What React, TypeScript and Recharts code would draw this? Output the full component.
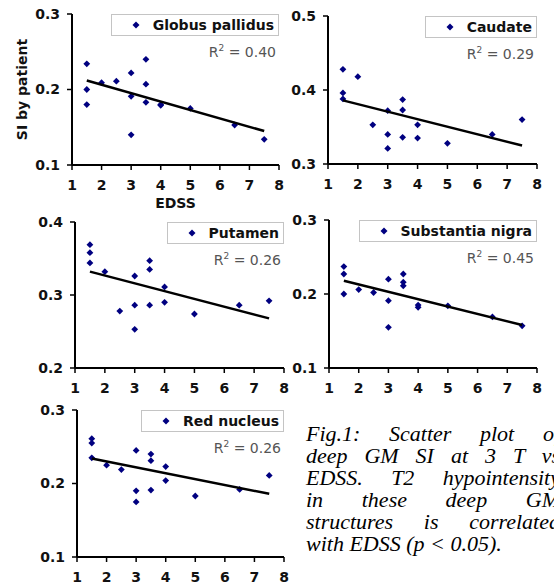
import { ScatterChart, Scatter, XAxis, YAxis, Legend } from 'recharts';

// EDSS score of each patient (shared x values)
const edss = [1.5, 1.5, 1.5, 2, 2.5, 3, 3, 3, 3.5, 3.5, 3.5, 4, 4, 5, 6.5, 7.5];
const xTicks = [1, 2, 3, 4, 5, 6, 7, 8];

// SI by patient, same order as edss
const globusPallidus = [0.234, 0.2, 0.18, 0.209, 0.211, 0.222, 0.191, 0.14, 0.24, 0.207, 0.183, 0.18, 0.179, 0.175, 0.153, 0.134];
const caudate = [0.428, 0.396, 0.388, 0.418, 0.353, 0.372, 0.34, 0.321, 0.387, 0.373, 0.336, 0.353, 0.335, 0.328, 0.34, 0.36];
const putamen = [0.369, 0.358, 0.344, 0.332, 0.278, 0.326, 0.286, 0.253, 0.347, 0.335, 0.286, 0.311, 0.29, 0.274, 0.286, 0.292];
const substantiaNigra = [0.237, 0.227, 0.2, 0.206, 0.202, 0.22, 0.191, 0.155, 0.227, 0.216, 0.211, 0.185, 0.182, 0.184, 0.169, 0.157];
const redNucleus = [0.261, 0.255, 0.235, 0.225, 0.219, 0.245, 0.19, 0.175, 0.24, 0.231, 0.191, 0.223, 0.204, 0.183, 0.192, 0.211];

// linear trendlines, read at EDSS 1.5 and 7.5
const trendX = [1.5, 7.5];
const gpTrend = [0.212, 0.145];
const caudateTrend = [0.386, 0.325];
const putamenTrend = [0.332, 0.268];
const snTrend = [0.218, 0.158];
const rnTrend = [0.234, 0.186];

const r2Values = ['0.40', '0.29', '0.26', '0.45', '0.26'];

const captionLines = [
  'Fig.1: Scatter plot of',
  'deep GM SI at 3 T vs',
  'EDSS. T2 hypointensity',
  'in these deep GM',
  'structures is correlated',
  'with EDSS (p < 0.05).',
];

const FONT = '"DejaVu Sans", Verdana, sans-serif';
const NAVY = '#000080';

const tickFont = { fontFamily: FONT, fontSize: 14, fontWeight: 700, fill: '#111' };

const Diamond = (props: any) => {
  const { cx, cy } = props;
  if (cx == null || cy == null) return <g />;
  const r = 3.4;
  return <path d={`M${cx},${cy - r}L${cx + r},${cy}L${cx},${cy + r}L${cx - r},${cy}Z`} fill={NAVY} />;
};

const NoDot = () => <g />;

const makeLegend = (r2: string) => (props: any) => {
  const items = (props.payload || []).filter((p: any) => p.type !== 'none');
  const item = items[0];
  return (
    <div style={{ display: 'flex', flexDirection: 'column', alignItems: 'flex-end' }}>
      <div
        style={{
          border: '1px solid #c4c4c4',
          background: '#fff',
          height: 20,
          display: 'flex',
          alignItems: 'center',
          paddingLeft: 20,
          paddingRight: 4,
          fontFamily: FONT,
          fontSize: 14,
          fontWeight: 700,
          color: '#111',
          whiteSpace: 'nowrap',
        }}
      >
        <svg width={8} height={8} style={{ marginRight: 13 }}>
          <path d="M4,0.5L7.5,4L4,7.5L0.5,4Z" fill={NAVY} />
        </svg>
        {item ? item.value : ''}
      </div>
      <div style={{ fontFamily: FONT, fontSize: 14, color: '#555', lineHeight: '20px', marginTop: 2, paddingRight: 3, whiteSpace: 'nowrap' }}>
        R<sup style={{ fontSize: 9, verticalAlign: 6 }}>2</sup> = {r2}
      </div>
    </div>
  );
};

type Rect = { left: number; top: number; right: number; bottom: number };

type PanelProps = {
  name: string;
  values: number[];
  trend: number[];
  r2: string;
  yDomain: [number, number];
  yTicks: number[];
  boxLeft: number;
  boxTop: number;
  plot: Rect;
  xHeight: number;
  xTitle?: string;
  yTitle?: string;
};

const Panel = (p: PanelProps) => {
  const rightGap = 10;
  const width = p.plot.right + rightGap - p.boxLeft;
  const height = p.plot.bottom + p.xHeight - p.boxTop;
  const margin = { top: p.plot.top - p.boxTop, right: rightGap, bottom: 0, left: 0 };
  const yWidth = p.plot.left - p.boxLeft;
  const points = edss.map((x, i) => ({ x, y: p.values[i] }));
  const fit = trendX.map((x, i) => ({ x, y: p.trend[i] }));

  return (
    <div style={{ position: 'absolute', left: p.boxLeft, top: p.boxTop }}>
      <ScatterChart width={width} height={height} margin={margin}>
        <XAxis
          dataKey="x"
          type="number"
          domain={[1, 8]}
          ticks={xTicks}
          interval={0}
          height={p.xHeight}
          tick={tickFont}
          tickSize={5}
          tickMargin={10}
          axisLine={{ stroke: '#000', strokeWidth: 2 }}
          tickLine={{ stroke: '#000', strokeWidth: 1.5 }}
          label={
            p.xTitle
              ? { value: p.xTitle, position: 'insideBottom', offset: 5, style: { fontFamily: FONT, fontSize: 14, fontWeight: 700, fill: '#111' } }
              : undefined
          }
        />
        <YAxis
          dataKey="y"
          type="number"
          domain={p.yDomain}
          ticks={p.yTicks}
          interval={0}
          width={yWidth}
          tick={tickFont}
          tickSize={5}
          tickMargin={7}
          axisLine={{ stroke: '#000', strokeWidth: 2 }}
          tickLine={{ stroke: '#000', strokeWidth: 1.5 }}
          label={
            p.yTitle
              ? {
                  content: (lp: any) => {
                    const vb = lp.viewBox || {};
                    const cx = vb.x + 22;
                    const cy = vb.y + vb.height / 2;
                    return (
                      <text
                        x={cx}
                        y={cy}
                        transform={`rotate(-90, ${cx}, ${cy})`}
                        textAnchor="middle"
                        dominantBaseline="central"
                        style={{ fontFamily: FONT, fontSize: 14, fontWeight: 700, fill: '#111' }}
                      >
                        {p.yTitle}
                      </text>
                    );
                  },
                }
              : undefined
          }
        />
        <XAxis xAxisId="frameTop" orientation="top" type="number" domain={[1, 8]} height={0} tick={false} tickLine={false} axisLine={{ stroke: '#a8a8a8' }} />
        <YAxis yAxisId="frameRight" orientation="right" type="number" domain={p.yDomain} width={0} tick={false} tickLine={false} axisLine={{ stroke: '#a8a8a8' }} />
        <Legend
          layout="horizontal"
          verticalAlign="middle"
          align="center"
          content={makeLegend(p.r2)}
          wrapperStyle={{ top: margin.top, right: rightGap, left: 'auto', width: 'auto', height: 'auto' }}
        />
        <Scatter name={p.name} data={points} fill={NAVY} shape={Diamond} legendType="diamond" isAnimationActive={false} />
        <Scatter data={fit} line={{ stroke: '#000', strokeWidth: 2.5 }} shape={NoDot} legendType="none" isAnimationActive={false} />
      </ScatterChart>
    </div>
  );
};

export default function App() {
  return (
    <div style={{ position: 'absolute', left: 0, top: 0, width: 554, height: 584, overflow: 'hidden', background: '#fff' }}>
      <Panel
        name="Globus pallidus"
        values={globusPallidus}
        trend={gpTrend}
        r2={r2Values[0]}
        yDomain={[0.1, 0.3]}
        yTicks={[0.1, 0.2, 0.3]}
        boxLeft={0}
        boxTop={0}
        plot={{ left: 72, top: 14, right: 279, bottom: 165 }}
        xHeight={48}
        xTitle="EDSS"
        yTitle="SI by patient"
      />
      <Panel
        name="Caudate"
        values={caudate}
        trend={caudateTrend}
        r2={r2Values[1]}
        yDomain={[0.3, 0.5]}
        yTicks={[0.3, 0.4, 0.5]}
        boxLeft={282}
        boxTop={0}
        plot={{ left: 328, top: 16, right: 537, bottom: 164 }}
        xHeight={30}
      />
      <Panel
        name="Putamen"
        values={putamen}
        trend={putamenTrend}
        r2={r2Values[2]}
        yDomain={[0.2, 0.4]}
        yTicks={[0.2, 0.3, 0.4]}
        boxLeft={0}
        boxTop={196}
        plot={{ left: 75, top: 222, right: 284, bottom: 368 }}
        xHeight={30}
      />
      <Panel
        name="Substantia nigra"
        values={substantiaNigra}
        trend={snTrend}
        r2={r2Values[3]}
        yDomain={[0.1, 0.3]}
        yTicks={[0.1, 0.2, 0.3]}
        boxLeft={286}
        boxTop={196}
        plot={{ left: 329, top: 220, right: 537, bottom: 368 }}
        xHeight={30}
      />
      <Panel
        name="Red nucleus"
        values={redNucleus}
        trend={rnTrend}
        r2={r2Values[4]}
        yDomain={[0.1, 0.3]}
        yTicks={[0.1, 0.2, 0.3]}
        boxLeft={0}
        boxTop={392}
        plot={{ left: 77, top: 410, right: 284, bottom: 557 }}
        xHeight={30}
      />
      <div
        style={{
          position: 'absolute',
          left: 306,
          top: 423,
          width: 254,
          fontFamily: '"Liberation Serif", "Times New Roman", serif',
          fontStyle: 'italic',
          fontSize: 22,
          lineHeight: '22px',
          color: '#000',
        }}
      >
        {captionLines.map((line, i) => (
          <div
            key={i}
            style={{
              whiteSpace: 'nowrap',
              textAlign: 'justify',
              textAlignLast: i === captionLines.length - 1 ? 'left' : 'justify',
            }}
          >
            {line}
          </div>
        ))}
      </div>
    </div>
  );
}
